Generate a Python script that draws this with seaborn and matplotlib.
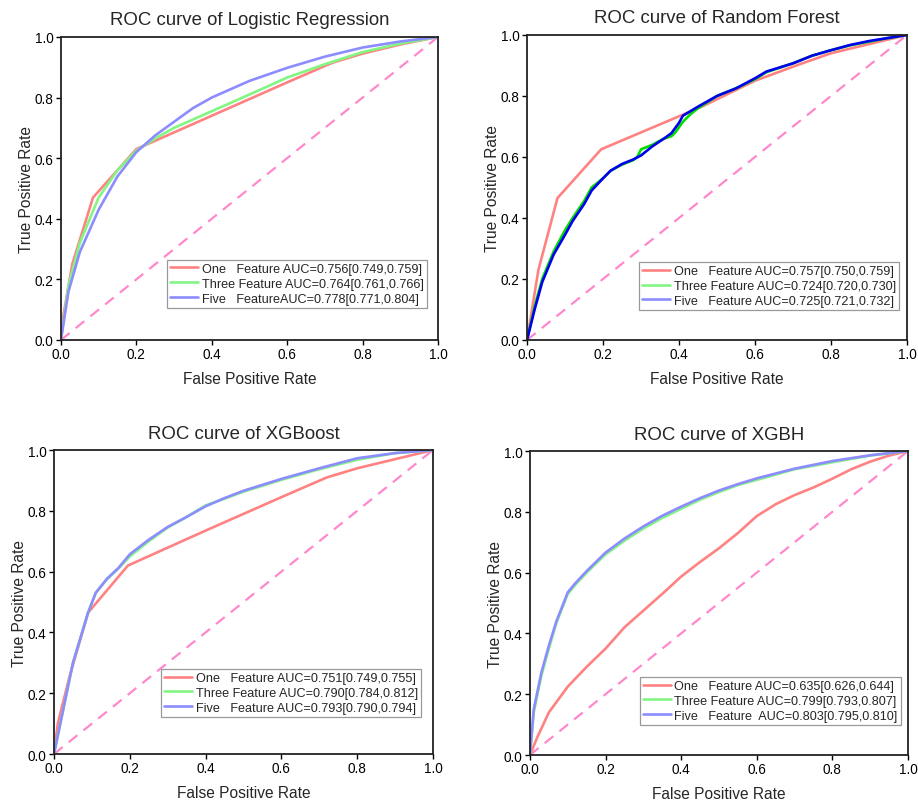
import numpy as np
import pandas as pd
import matplotlib
matplotlib.use("Agg")
import matplotlib.pyplot as plt
from matplotlib.lines import Line2D
import seaborn as sns

# ---- ROC curve points (false positive rate, true positive rate) ----
# Logistic Regression
lr_one_fpr = [0.0, 0.005, 0.03, 0.085, 0.2, 0.4, 0.6, 0.72, 0.8, 0.9, 1.0]
lr_one_tpr = [0.0, 0.07, 0.25, 0.47, 0.63, 0.74, 0.85, 0.915, 0.945, 0.975, 1.0]
lr_three_fpr = [0.0, 0.02, 0.05, 0.1, 0.15, 0.2, 0.25, 0.3, 0.4, 0.5, 0.6, 0.7, 0.8, 0.9, 1.0]
lr_three_tpr = [0.0, 0.18, 0.32, 0.47, 0.56, 0.625, 0.665, 0.70, 0.755, 0.81, 0.866, 0.91, 0.95, 0.978, 1.0]
lr_five_fpr = [0.0, 0.02, 0.05, 0.1, 0.15, 0.2, 0.25, 0.3, 0.35, 0.4, 0.5, 0.6, 0.7, 0.8, 0.9, 1.0]
lr_five_tpr = [0.0, 0.16, 0.29, 0.43, 0.54, 0.62, 0.675, 0.72, 0.765, 0.80, 0.855, 0.898, 0.935, 0.965, 0.985, 1.0]

# Random Forest
rf_one_fpr = [0.0, 0.03, 0.08, 0.195, 0.46, 0.6, 0.72, 0.8, 0.9, 1.0]
rf_one_tpr = [0.0, 0.23, 0.465, 0.625, 0.765, 0.85, 0.905, 0.94, 0.97, 1.0]
rf_three_fpr = [0.0, 0.02, 0.04, 0.07, 0.1, 0.12, 0.15, 0.17, 0.2, 0.22, 0.25, 0.28, 0.29,
                0.3, 0.33, 0.36, 0.38, 0.39, 0.41, 0.43, 0.45, 0.5, 0.55, 0.6, 0.63, 0.7,
                0.75, 0.8, 0.85, 0.9, 0.95, 1.0]
rf_three_tpr = [0.0, 0.11, 0.20, 0.29, 0.36, 0.40, 0.455, 0.50, 0.53, 0.555, 0.575, 0.59, 0.60,
                0.625, 0.64, 0.66, 0.668, 0.68, 0.715, 0.74, 0.76, 0.80, 0.825, 0.855, 0.878,
                0.907, 0.932, 0.95, 0.966, 0.978, 0.99, 1.0]
rf_five_fpr = [0.0, 0.02, 0.04, 0.07, 0.1, 0.12, 0.15, 0.17, 0.2, 0.22, 0.25, 0.28, 0.3,
               0.33, 0.36, 0.38, 0.4, 0.41, 0.43, 0.45, 0.5, 0.55, 0.6, 0.63, 0.7, 0.75,
               0.8, 0.85, 0.9, 0.95, 1.0]
rf_five_tpr = [0.0, 0.10, 0.19, 0.28, 0.345, 0.39, 0.445, 0.49, 0.53, 0.555, 0.577, 0.592, 0.605,
               0.635, 0.66, 0.678, 0.712, 0.735, 0.75, 0.765, 0.80, 0.825, 0.858, 0.88, 0.907,
               0.932, 0.95, 0.967, 0.98, 0.99, 1.0]

# XGBoost
xgb_one_fpr = [0.0, 0.01, 0.04, 0.09, 0.195, 0.4, 0.6, 0.72, 0.8, 0.9, 1.0]
xgb_one_tpr = [0.0, 0.10, 0.25, 0.465, 0.62, 0.735, 0.845, 0.91, 0.94, 0.97, 1.0]
xgb_three_fpr = [0.0, 0.02, 0.05, 0.09, 0.11, 0.14, 0.17, 0.2, 0.25, 0.3, 0.35, 0.4, 0.45,
                 0.5, 0.6, 0.7, 0.8, 0.9, 1.0]
xgb_three_tpr = [0.0, 0.12, 0.30, 0.465, 0.53, 0.575, 0.61, 0.65, 0.70, 0.745, 0.78, 0.818, 0.84,
                 0.863, 0.902, 0.937, 0.968, 0.99, 1.0]
xgb_five_fpr = [0.0, 0.02, 0.05, 0.09, 0.11, 0.14, 0.17, 0.2, 0.25, 0.3, 0.35, 0.4, 0.45,
                0.5, 0.6, 0.7, 0.8, 0.9, 1.0]
xgb_five_tpr = [0.0, 0.12, 0.30, 0.465, 0.53, 0.577, 0.612, 0.657, 0.705, 0.747, 0.78, 0.815, 0.842,
                0.866, 0.905, 0.94, 0.973, 0.99, 1.0]

# XGBH
xgbh_one_fpr = [0.0, 0.02, 0.05, 0.1, 0.15, 0.2, 0.25, 0.3, 0.35, 0.4, 0.45, 0.5, 0.55,
                0.6, 0.65, 0.7, 0.75, 0.8, 0.85, 0.9, 0.95, 1.0]
xgbh_one_tpr = [0.0, 0.06, 0.14, 0.225, 0.29, 0.35, 0.42, 0.475, 0.53, 0.587, 0.635, 0.68, 0.73,
                0.786, 0.825, 0.855, 0.88, 0.909, 0.94, 0.965, 0.985, 1.0]
xgbh_three_fpr = [0.0, 0.01, 0.03, 0.05, 0.07, 0.1, 0.12, 0.15, 0.2, 0.25, 0.3, 0.35, 0.4,
                  0.45, 0.5, 0.55, 0.6, 0.7, 0.8, 0.9, 1.0]
xgbh_three_tpr = [0.0, 0.14, 0.26, 0.35, 0.435, 0.53, 0.56, 0.60, 0.66, 0.705, 0.745, 0.78, 0.81,
                  0.84, 0.865, 0.888, 0.905, 0.94, 0.963, 0.985, 1.0]
xgbh_five_fpr = [0.0, 0.01, 0.03, 0.05, 0.07, 0.1, 0.12, 0.15, 0.2, 0.25, 0.3, 0.35, 0.4,
                 0.45, 0.5, 0.55, 0.6, 0.7, 0.8, 0.9, 1.0]
xgbh_five_tpr = [0.0, 0.15, 0.27, 0.36, 0.44, 0.535, 0.565, 0.605, 0.666, 0.712, 0.752, 0.787, 0.817,
                 0.845, 0.87, 0.891, 0.91, 0.942, 0.967, 0.986, 1.0]

titles = ["ROC curve of Logistic Regression", "ROC curve of Random Forest",
          "ROC curve of XGBoost", "ROC curve of XGBH"]

legend_labels = [
    ["One   Feature AUC=0.756[0.749,0.759]",
     "Three Feature AUC=0.764[0.761,0.766]",
     "Five   FeatureAUC=0.778[0.771,0.804]"],
    ["One   Feature AUC=0.757[0.750,0.759]",
     "Three Feature AUC=0.724[0.720,0.730]",
     "Five   Feature AUC=0.725[0.721,0.732]"],
    ["One   Feature AUC=0.751[0.749,0.755]",
     "Three Feature AUC=0.790[0.784,0.812]",
     "Five   Feature AUC=0.793[0.790,0.794]"],
    ["One   Feature AUC=0.635[0.626,0.644]",
     "Three Feature AUC=0.799[0.793,0.807]",
     "Five   Feature  AUC=0.803[0.795,0.810]"],
]

curves = [
    [(lr_one_fpr, lr_one_tpr), (lr_three_fpr, lr_three_tpr), (lr_five_fpr, lr_five_tpr)],
    [(rf_one_fpr, rf_one_tpr), (rf_three_fpr, rf_three_tpr), (rf_five_fpr, rf_five_tpr)],
    [(xgb_one_fpr, xgb_one_tpr), (xgb_three_fpr, xgb_three_tpr), (xgb_five_fpr, xgb_five_tpr)],
    [(xgbh_one_fpr, xgbh_one_tpr), (xgbh_three_fpr, xgbh_three_tpr), (xgbh_five_fpr, xgbh_five_tpr)],
]

pale_colors = ["#ff8282", "#82f582", "#8c8cff"]
strong_colors = ["#ff8282", "#00dd00", "#0000ee"]
diag_color = "#ff88cc"

# axes rectangles in figure fractions [left, bottom, width, height]
axes_rects = [
    [0.0664, 0.5759, 0.4107, 0.3769],
    [0.5741, 0.5759, 0.4140, 0.3794],
    [0.0588, 0.0609, 0.4129, 0.3781],
    [0.5773, 0.0597, 0.4118, 0.3781],
]
legend_anchor = [(0.971, 0.106), (0.979, 0.098), (0.968, 0.122), (0.981, 0.099)]

sns.set_style("ticks")
plt.rcParams["font.family"] = ["Liberation Sans", "DejaVu Sans"]

fig = plt.figure(figsize=(9.18, 8.04), dpi=100)

for i in range(4):
    ax = fig.add_axes(axes_rects[i])
    colors = strong_colors if i == 1 else pale_colors
    frames = []
    for j, (fpr, tpr) in enumerate(curves[i]):
        frames.append(pd.DataFrame({"fpr": fpr, "tpr": tpr,
                                    "curve": legend_labels[i][j], "order": np.arange(len(fpr))}))
    df = pd.concat(frames, ignore_index=True)

    # chance line
    sns.lineplot(x=[0, 1], y=[0, 1], ax=ax, color=diag_color, lw=1.6,
                 linestyle=(0, (5, 3.5)), legend=False)
    sns.lineplot(data=df, x="fpr", y="tpr", hue="curve", hue_order=legend_labels[i],
                 palette=colors, sort=False, estimator=None, units="curve",
                 lw=1.9, ax=ax, legend=False)

    ticks = np.arange(0, 1.01, 0.2)
    ax.set_xlim(0, 1)
    ax.set_ylim(0, 1)
    ax.set_xticks(ticks)
    ax.set_yticks(ticks)
    ax.set_xticklabels([f"{v:.1f}" for v in ticks])
    ax.set_yticklabels([f"{v:.1f}" for v in ticks])
    ax.tick_params(direction="out", length=3.5, width=1.0, labelsize=9.8, colors="black", pad=1.8)
    for sp in ax.spines.values():
        sp.set_visible(True)
        sp.set_color("#222222")
        sp.set_linewidth(1.3)
    ax.set_xlabel("False Positive Rate", fontsize=11.2, labelpad=7)
    ax.set_ylabel("True Positive Rate", fontsize=11.2, labelpad=0.5)
    ax.set_title(titles[i], fontsize=13.4, pad=9)

    handles = [Line2D([0], [0], color=c, lw=1.9) for c in pale_colors]
    leg = ax.legend(handles, legend_labels[i], loc="lower right",
                    bbox_to_anchor=legend_anchor[i], borderaxespad=0,
                    fontsize=9.1, handlelength=2.2, handletextpad=0.3,
                    labelspacing=0.23, borderpad=0.25, fancybox=False,
                    framealpha=1, edgecolor="#999999")
    leg.get_frame().set_linewidth(0.9)

fig.savefig("out.png", dpi=100, facecolor="white")
